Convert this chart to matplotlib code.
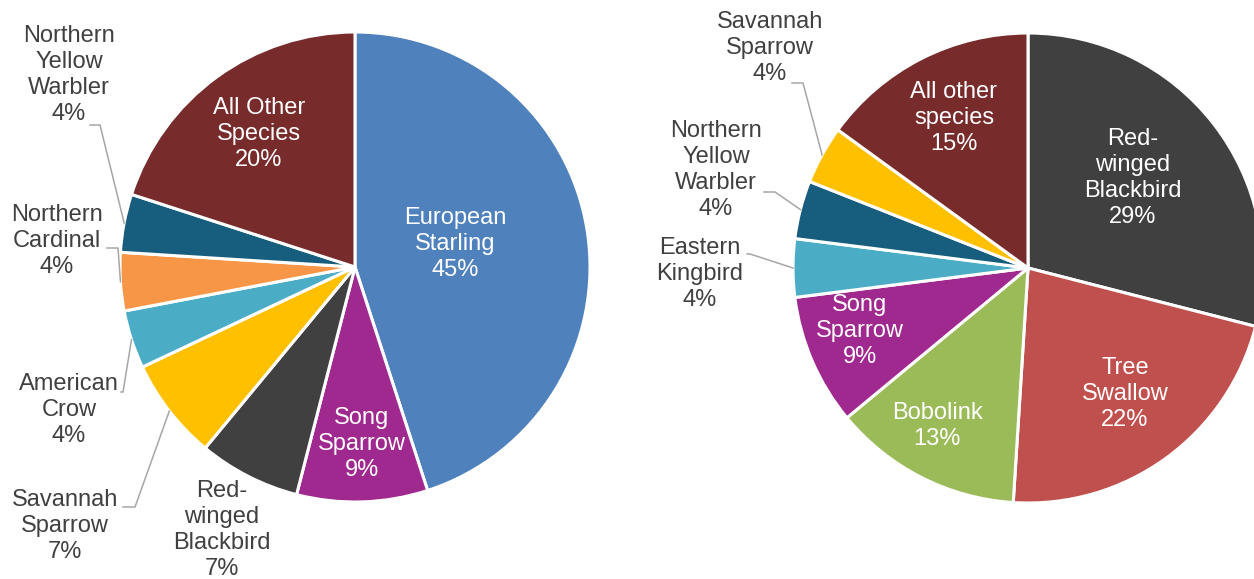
import numpy as np
import matplotlib.pyplot as plt

plt.rcParams['font.family'] = ['Liberation Sans', 'DejaVu Sans']

W, H = 1254, 579

# left pie
left_names = ['European\nStarling', 'Song\nSparrow', 'Red-\nwinged\nBlackbird', 'Savannah\nSparrow',
              'American\nCrow', 'Northern\nCardinal', 'Northern\nYellow\nWarbler', 'All Other\nSpecies']
left_pct = [45, 9, 7, 7, 4, 4, 4, 20]
left_colors = ['#4F81BD', '#A0298F', '#404040', '#FFC000', '#4BACC6', '#F79646', '#175E7E', '#772B2B']

# right pie
right_names = ['Red-\nwinged\nBlackbird', 'Tree\nSwallow', 'Bobolink', 'Song\nSparrow', 'Eastern\nKingbird',
               'Northern\nYellow\nWarbler', 'Savannah\nSparrow', 'All other\nspecies']
right_pct = [29, 22, 13, 9, 4, 4, 4, 15]
right_colors = ['#404040', '#C0504D', '#9BBB59', '#A0298F', '#4BACC6', '#175E7E', '#FFC000', '#772B2B']

# label placement in pixels (x, y from top), text colour, leader start or None
left_lbl = [((455, 244), 'white', None),
            ((362, 444), 'white', None),
            ((222, 530), '#404040', None),
            ((65, 526), '#404040', (123, 507, 12)),
            ((69, 410), '#404040', (121, 392, 2)),
            ((57, 241), '#404040', (107, 248, 11)),
            ((69, 75), '#404040', (90, 125, 10)),
            ((259, 134), 'white', None)]
right_lbl = [((1133, 178), 'white', None),
             ((1125, 394), 'white', None),
             ((937, 426), 'white', None),
             ((860, 331), 'white', None),
             ((700, 274), '#404040', (747, 254, 3)),
             ((716, 170), '#404040', (764, 192, 11)),
             ((770, 48), '#404040', (792, 83, 11)),
             ((954, 118), 'white', None)]

fig = plt.figure(figsize=(W / 100, H / 100), dpi=100)
ax = fig.add_axes([0, 0, 1, 1])


def draw_pie(pct, names, colors, labels, cx, cy, r):
    wedges, _ = ax.pie(pct, colors=colors, startangle=90, counterclock=False,
                       center=(cx, H - cy), radius=r,
                       wedgeprops=dict(edgecolor='white', linewidth=2.2))
    for w, name, p, (pos, col, lead) in zip(wedges, names, pct, labels):
        ax.text(pos[0], H - pos[1], f'{name}\n{p}%', ha='center', va='center',
                color=col, fontsize=17, linespacing=1.24)
        if lead:
            # elbow leader from the label to the middle of the wedge's arc
            mid = np.deg2rad((w.theta1 + w.theta2) / 2)
            ex, ey = cx + r * np.cos(mid), H - cy + r * np.sin(mid)
            x0, y0, el = lead
            ax.plot([x0, x0 + el, ex], [H - y0, H - y0, ey], color='#A6A6A6', lw=1.1)


draw_pie(left_pct, left_names, left_colors, left_lbl, 355, 267, 235)
draw_pie(right_pct, right_names, right_colors, right_lbl, 1028, 268, 235)

ax.set_xlim(0, W)
ax.set_ylim(0, H)
ax.set_aspect('equal')
ax.axis('off')

fig.savefig('out.png', dpi=100, facecolor='white')
